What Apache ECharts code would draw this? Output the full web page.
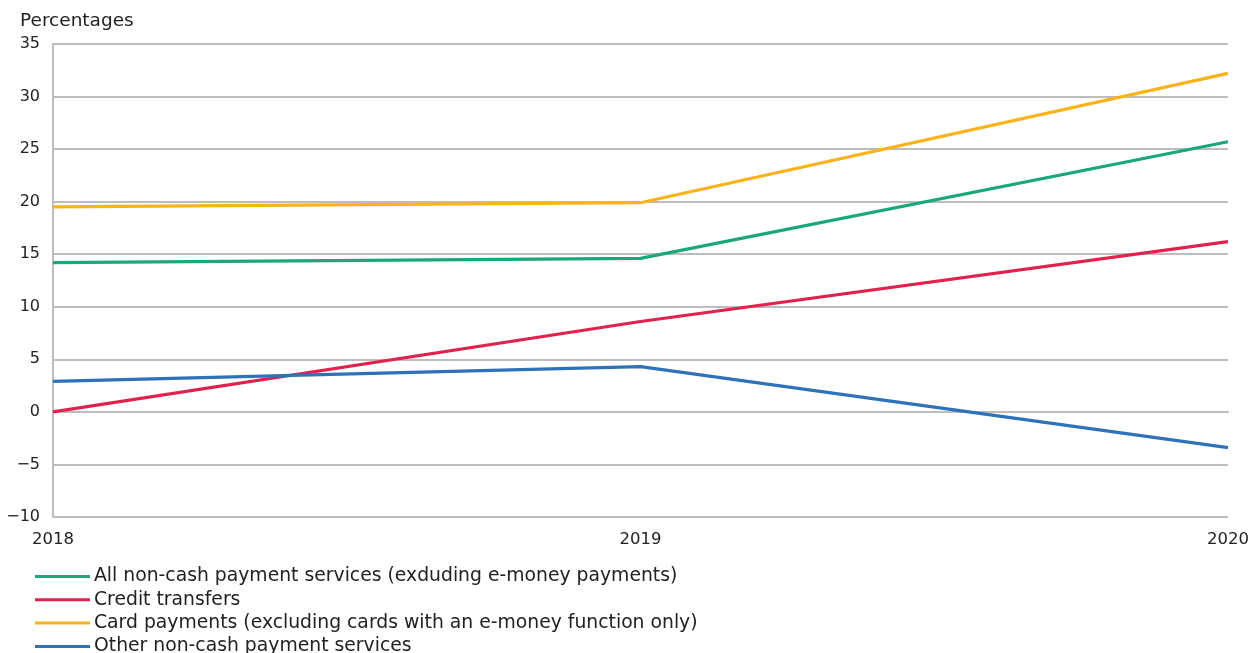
<!DOCTYPE html>
<html><head><meta charset="utf-8">
<script src="https://cdn.jsdelivr.net/npm/echarts@6/dist/echarts.min.js"></script>
<style>html,body{margin:0;padding:0;background:#fff}#c{width:1252px;height:653px}</style>
</head><body><div id="c"></div>
<script>
const years = ['2018', '2019', '2020'];
const allNonCash = [14.2, 14.6, 25.7];
const creditTransfers = [0.0, 8.6, 16.2];
const cardPayments = [19.5, 19.9, 32.2];
const otherServices = [2.9, 4.3, -3.4];
const seriesNames = [
  'All non-cash payment services (exduding e-money payments)',
  'Credit transfers',
  'Card payments (excluding cards with an e-money function only)',
  'Other non-cash payment services'
];
const colors = ['#1aa876', '#e0234e', '#fbb31c', '#2e72b9'];
const FONT = 'DejaVu Sans';
const chart = echarts.init(document.getElementById('c'));
const mk = (name, data, color) => ({
  name, type: 'line', data, symbol: 'none', color,
  lineStyle: { width: 3.2, color }
});
chart.setOption({
  animation: false,
  textStyle: { fontFamily: FONT, color: '#222' },
  title: { text: 'Percentages', left: 15, top: 7,
    textStyle: { fontFamily: FONT, fontSize: 18.5, fontWeight: 'normal', color: '#222' } },
  grid: { left: 53, right: 22, top: 44, bottom: 136 },
  xAxis: {
    type: 'category', data: years, boundaryGap: false,
    axisLine: { show: true, lineStyle: { color: '#bdbdbd', width: 2 } },
    axisTick: { show: false },
    axisLabel: { fontFamily: FONT, fontSize: 16.5, color: '#222', margin: 14,
      align: 'center' },
    splitLine: { show: false }
  },
  yAxis: {
    type: 'value', min: -10, max: 35, interval: 5,
    axisLine: { show: true, onZero: false, lineStyle: { color: '#bdbdbd', width: 2 } },
    axisTick: { show: false },
    axisLabel: { fontFamily: FONT, fontSize: 16, color: '#222', margin: 13,
      formatter: v => String(v).replace('-', '\u2212') },
    splitLine: { show: true, lineStyle: { color: '#bdbdbd', width: 2 } }
  },
  legend: {
    orient: 'vertical', left: 35, top: 567, height: 120, padding: 0, icon: 'rect',
    itemWidth: 55, itemHeight: 3, itemGap: 4.3,
    textStyle: { fontFamily: FONT, fontSize: 18.8, color: '#222', lineHeight: 18, padding: [0, 0, 0, -1] },
    data: seriesNames
  },
  series: [
    mk(seriesNames[0], allNonCash, colors[0]),
    mk(seriesNames[1], creditTransfers, colors[1]),
    mk(seriesNames[2], cardPayments, colors[2]),
    mk(seriesNames[3], otherServices, colors[3])
  ]
});
</script></body></html>
